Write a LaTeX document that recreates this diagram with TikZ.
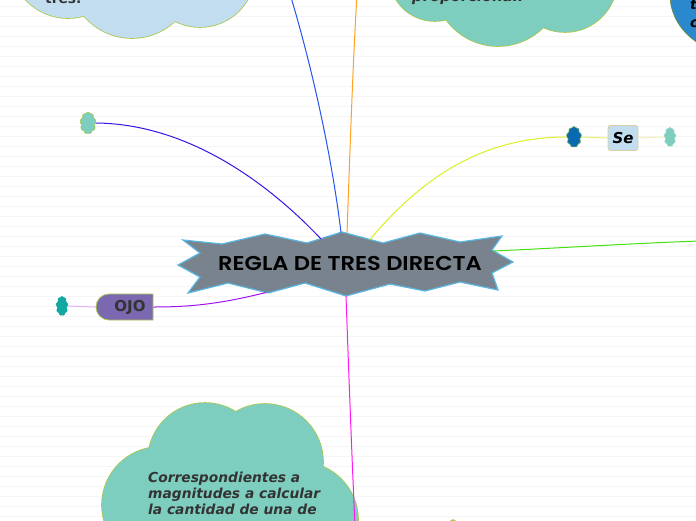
\documentclass[tikz,border=0pt]{standalone}
\usepackage{fontspec}
\setmainfont{DejaVu Sans}
\newfontfamily\titlefont{Poppins SemiBold}
\usetikzlibrary{shapes.symbols,shapes.misc}
\definecolor{slategr}{HTML}{78838E}
\definecolor{burstline}{HTML}{5AB6E2}
\definecolor{ctealf}{HTML}{7ECEC0}
\definecolor{cblueL}{HTML}{C2DDEF}
\definecolor{cedge}{HTML}{A8C850}
\definecolor{darkblue}{HTML}{0A6AB0}
\definecolor{midblue}{HTML}{2A88CC}
\definecolor{darkteal}{HTML}{10A8A0}
\definecolor{ojofill}{HTML}{7B68B0}
\definecolor{txtgray}{HTML}{333333}
\definecolor{setan}{HTML}{D8D0A0}
\definecolor{lblue}{HTML}{2255EE}
\definecolor{lorange}{HTML}{FFA020}
\definecolor{lindigo}{HTML}{3A12E6}
\definecolor{lyellow}{HTML}{DCF020}
\definecolor{lgreen}{HTML}{44E010}
\definecolor{lpurple}{HTML}{A012F0}
\definecolor{lmagenta}{HTML}{FF18F0}
\definecolor{lpalepurple}{HTML}{DDB0F8}
\definecolor{lpaleyellow}{HTML}{E6F070}
\definecolor{lpaleyellow2}{HTML}{F0F0B8}
\tikzset{
  conn/.style={line width=1pt},
  blob/.style={shape=cloud, cloud puffs=9, cloud puff arc=120, aspect=0.72, inner sep=0pt, line width=0.6pt},
  cloudtxt/.style={font=\fontsize{13.8}{16}\selectfont\bfseries\itshape, text=txtgray, inner sep=0pt, anchor=base west},
}
\begin{document}
\begin{tikzpicture}[x=1pt,y=-1pt]
\useasboundingbox (0,0) rectangle (696,520);
\clip (0,0) rectangle (696,520);
\fill[white] (0,0) rectangle (696,520);
\foreach \yy in {6,16,...,516} \draw[black!4, line width=0.6pt] (0,\yy) -- (696,\yy);

% ---- big clouds ----
% top-left light blue
\draw[cedge, line width=1.6pt] (68,-40) circle (58) (132,-25) circle (63) (200,-28) circle (55);
\fill[cblueL] (68,-40) circle (58) (132,-25) circle (63) (200,-28) circle (55);
\node[font=\fontsize{13.8}{16}\selectfont\bfseries, text=txtgray, inner sep=0pt, anchor=base west] (tres) at (45,3) {tres.};
% top-middle teal
\draw[cedge, line width=1.6pt] (435,-25) circle (46) (498,-18) circle (64) (565,-20) circle (52);
\fill[ctealf] (435,-25) circle (46) (498,-18) circle (64) (565,-20) circle (52);
\node[cloudtxt, font=\fontsize{14.8}{17}\selectfont\bfseries\itshape] (prop) at (412,1) {proporcional.};
% top-right blue
\draw[fill=midblue, draw=cedge!70!black, line width=0.6pt] (740,-5) ellipse (70 and 60);
\node[cloudtxt, text=black] (tt) at (690,9) {t};
\node[cloudtxt, text=black] (tc) at (690,27) {c};
% bottom teal cloud
\draw[cedge, line width=1.6pt] (160,505) circle (58) (205,460) circle (57) (265,462) circle (58) (300,520) circle (58);
\fill[ctealf] (160,505) circle (58);
\fill[ctealf] (205,460) circle (57);
\fill[ctealf] (265,462) circle (58);
\fill[ctealf] (300,520) circle (58);
\fill[ctealf] (230,520) circle (55);
\fill[ctealf] (115,500) rectangle (345,560);
\node[cloudtxt] (b1) at (148,482) {Correspondientes a};
\node[cloudtxt] (b2) at (148,498) {magnitudes a calcular};
\node[cloudtxt] (b3) at (148,514) {la cantidad de una de};

% ---- central starburst ----
\draw[fill=slategr, draw=burstline, line width=1.2pt, line join=miter]
  (183,240) -- (222,244) -- (265,234) -- (307,243) -- (342,232) -- (383,243) -- (420,233) -- (460,242) -- (502,236)
  -- (492,250) -- (513,262) -- (492,273) -- (498,290) -- (460,282) -- (425,291) -- (390,284) -- (346,296)
  -- (305,283) -- (268,293) -- (228,283) -- (188,293) -- (200,277) -- (178,265) -- (200,253) -- cycle;
\node[font=\titlefont\fontsize{20}{22}\selectfont, text=black, inner sep=0pt] (title) at (350,263.5) {\scalebox{1.13}[1]{REGLA DE TRES DIRECTA}};
\coordinate (sIndigo) at (321,239);
\coordinate (sBlue) at (341,232.5);
\coordinate (sOrange) at (347,233.3);
\coordinate (sYellow) at (370,239.5);
\coordinate (sGreen) at (494,251);
\coordinate (sPurple) at (266,292.5);
\coordinate (sMagenta) at (346,296);
\coordinate (eBlue) at (290,-6);
\coordinate (eOrange) at (357,-6);
\coordinate (eGreen) at (700,241);
\coordinate (eMagenta) at (355,526);

% ---- small nodes ----
\node[blob, fill=ctealf, draw=cedge, minimum width=16pt, minimum height=22pt] (c1) at (88,123) {};
\node[blob, fill=darkblue, draw=cedge!70!darkblue, minimum width=15pt, minimum height=21pt] (c2) at (574,137) {};
\node[blob, fill=ctealf, draw=ctealf!80!white, minimum width=12pt, minimum height=19pt] (c3) at (670,137) {};
\node[blob, fill=darkteal, draw=darkteal, minimum width=12pt, minimum height=19pt] (c4) at (62,306) {};
\node[blob, fill=cedge, draw=cedge, minimum width=12pt, minimum height=19pt] (c5) at (453,529) {};
\node[draw=setan, fill=cblueL, rounded corners=2.5pt, line width=0.8pt, minimum width=30pt, minimum height=25pt, inner sep=0pt, font=\fontsize{15}{18}\selectfont\bfseries\itshape] (se) at (623,138) {Se};
\node[shape=rounded rectangle, rounded rectangle right arc=none, draw=cedge, fill=ojofill, line width=0.8pt, minimum width=57pt, minimum height=26pt, inner sep=0pt] (ojo) at (124.5,307) {};
\node[font=\fontsize{15}{17}\selectfont\bfseries, text=txtgray, inner sep=0pt] (ojot) at (130,307) {OJO};

% ---- connectors ----
\draw[conn, lblue] (sBlue) .. controls (331,150) and (310,60) .. (eBlue);
\draw[conn, lorange] (sOrange) .. controls (350,150) and (353,60) .. (eOrange);
\draw[conn, lindigo] (c1.east) .. controls (190,124) and (270,185) .. (sIndigo);
\draw[conn, lyellow] (sYellow) .. controls (420,180) and (480,137) .. (c2.west);
\draw[conn, lgreen] (sGreen) .. controls (560,248) and (640,243) .. (eGreen);
\draw[conn, lpurple] (sPurple) .. controls (220,304) and (190,307) .. (ojo.east);
\draw[conn, lmagenta] (sMagenta) .. controls (349,380) and (352,460) .. (eMagenta);
\draw[conn, lpalepurple] (ojo.west) -- (c4.east);
\draw[conn, lpaleyellow] (c2.east) -- (se.west);
\draw[conn, lpaleyellow2] (se.east) -- (c3.west);
\end{tikzpicture}
\end{document}
